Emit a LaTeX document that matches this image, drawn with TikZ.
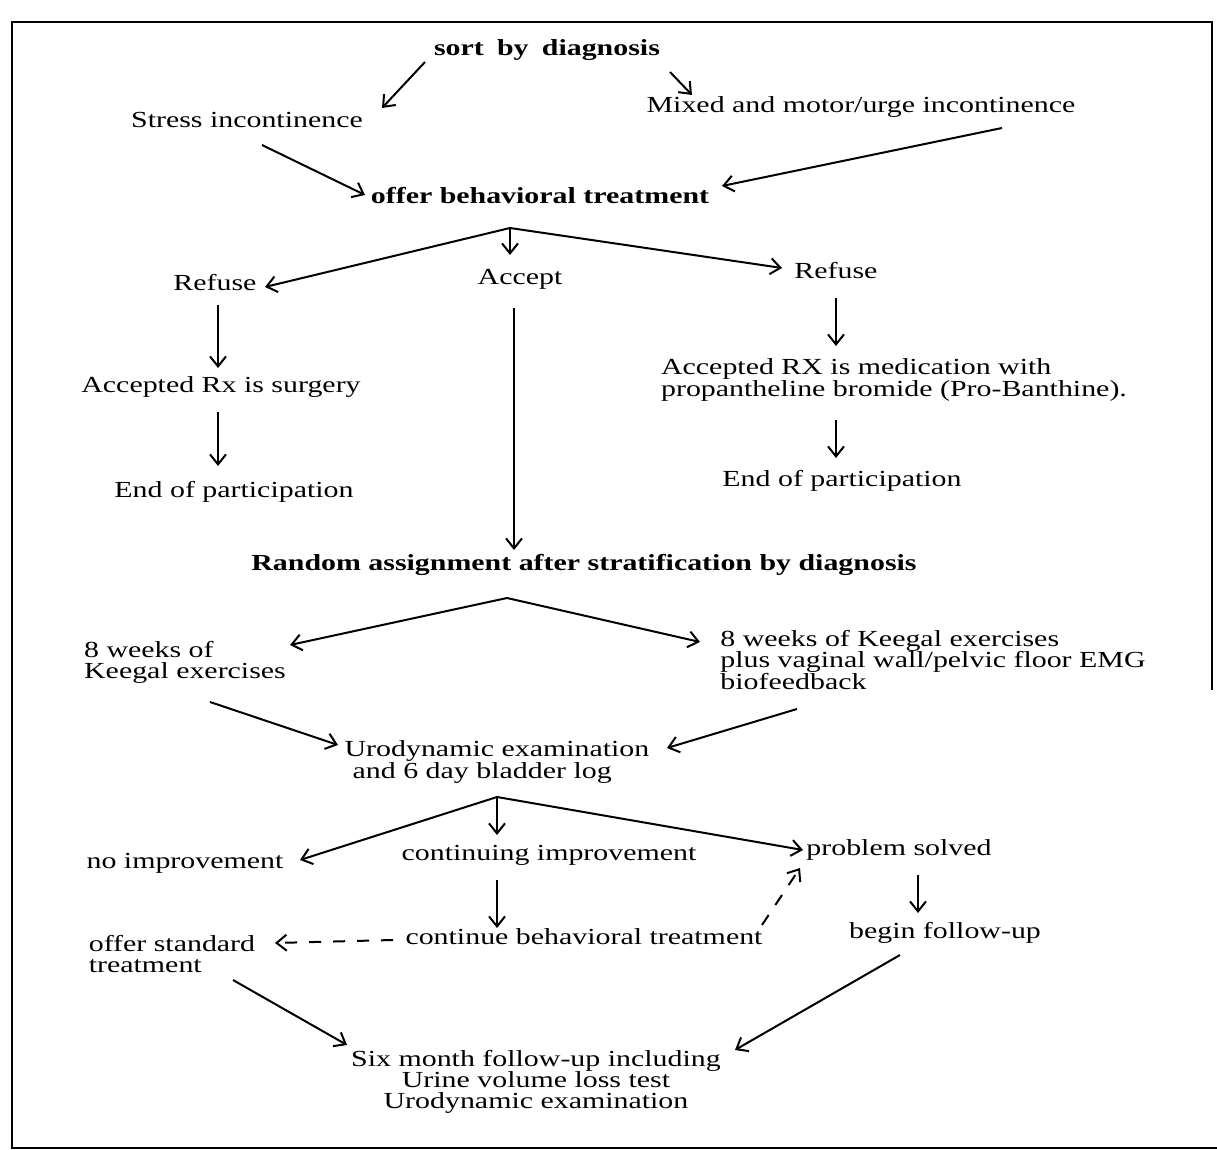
\documentclass[tikz,border=0pt]{standalone}
\usepackage{fontspec}
\setmainfont{Liberation Serif}[FakeStretch=1.3]
\usetikzlibrary{arrows.meta,calc}
\begin{document}
\begin{tikzpicture}[x=0.5pt,y=-0.5pt,
  every node/.style={inner sep=0pt, font=\fontsize{11.5}{10.6}\selectfont},
  lbl/.style={align=center},
  lft/.style={align=left},
  bld/.style={font=\fontsize{11.5}{10.6}\selectfont\bfseries},
  arr/.style={line width=1pt, -{Straight Barb[length=5pt,width=8pt,line width=1pt]}},
  darr/.style={arr, dash pattern=on 6pt off 6pt},
  frame/.style={line width=1.2pt}]
\useasboundingbox (0,0) rectangle (1217,1150);
\draw[frame] (1212,690) -- (1212,22) -- (12,22) -- (12,1148) -- (1217,1148);

\node[bld] (sort) at (547,50) {sort\hspace{0.25em} by\hspace{0.25em} diagnosis};
\node (stress) at (247,120) {Stress incontinence};
\node (mixed) at (861,107) {Mixed and motor/urge incontinence};
\node[bld] (offer) at (540,196) {offer behavioral treatment};
\node (refL) at (215,283) {Refuse};
\node (accept) at (520,279) {Accept};
\node (refR) at (836,271) {Refuse};
\node (surg) at (221,387) {Accepted Rx is surgery};
\node (endL) at (234,492) {End of participation};
\node[lft] (med) at (894,380) {Accepted RX is medication with\\propantheline bromide (Pro-Banthine).};
\node (endR) at (842,481) {End of participation};
\node[bld] (rand) at (584,565) {Random assignment after stratification by diagnosis};
\node[lft] (wkL) at (185,662) {8 weeks of\\Keegal exercises};
\node[lft] (wkR) at (933,660) {8 weeks of Keegal exercises\\plus vaginal wall/pelvic floor EMG\\biofeedback};
\node[lft] (uro) at (497,762) {Urodynamic examination\\\hspace{4pt}and 6 day bladder log};
\node (noimp) at (185,863) {no improvement};
\node (contimp) at (549,855) {continuing improvement};
\node (solved) at (899,850) {problem solved};
\node[lft] (offstd) at (172,954) {offer standard\\treatment};
\node (contbeh) at (584,937) {continue behavioral treatment};
\node (beginfu) at (945,933) {begin follow-up};
\node[lbl] (six) at (536,1082) {Six month follow-up including\\Urine volume loss test\\Urodynamic examination};

\coordinate (s1) at ($(offer)+(-30,32)$);
\coordinate (s2) at ($(rand)+(-77,33)$);
\coordinate (s3) at ($(uro)+(0,35)$);

\draw[arr] ($(sort)+(-122,12)$) -- ($(stress)+(135,-12)$);
\draw[arr] ($(sort)+(123,22)$) -- ($(mixed)+(-169,-12)$);
\draw[arr] ($(stress)+(15,25)$) -- ($(offer)+(-175,-1)$);
\draw[arr] ($(mixed)+(141,21)$) -- ($(offer)+(182,-10)$);
\draw[arr] (s1) -- ($(refL)+(50,4)$);
\draw[arr] (s1) -- ($(accept)+(-10,-24)$);
\draw[arr] (s1) -- ($(refR)+(-54,-3)$);
\draw[arr] ($(refL)+(3,22)$) -- ($(surg)+(-3,-19)$);
\draw[arr] ($(surg)+(-3,25)$) -- ($(endL)+(-16,-26)$);
\draw[arr] ($(accept)+(-6,29)$) -- ($(rand)+(-70,-15)$);
\draw[arr] ($(refR)+(0,27)$) -- ($(med)+(-58,-34)$);
\draw[arr] ($(med)+(-58,40)$) -- ($(endR)+(-6,-23)$);
\draw[arr] (s2) -- ($(wkL)+(105,-17)$);
\draw[arr] (s2) -- ($(wkR)+(-233,-18)$);
\draw[arr] ($(wkL)+(25,40)$) -- ($(uro)+(-159,-17)$);
\draw[arr] ($(wkR)+(-136,49)$) -- ($(uro)+(170,-14)$);
\draw[arr] (s3) -- ($(noimp)+(115,-3)$);
\draw[arr] (s3) -- ($(contimp)+(-52,-20)$);
\draw[arr] (s3) -- ($(solved)+(-96,0)$);
\draw[arr] ($(contimp)+(-52,25)$) -- ($(contbeh)+(-87,-9)$);
\draw[darr] ($(contbeh)+(-191,3)$) -- ($(offstd)+(103,-11)$);
\draw[darr] ($(contbeh)+(178,-12)$) -- ($(solved)+(-99,18)$);
\draw[arr] ($(solved)+(19,25)$) -- ($(beginfu)+(-27,-20)$);
\draw[arr] ($(offstd)+(61,26)$) -- ($(six)+(-189,-37)$);
\draw[arr] ($(beginfu)+(-45,22)$) -- ($(six)+(199,-32)$);
\end{tikzpicture}
\end{document}
